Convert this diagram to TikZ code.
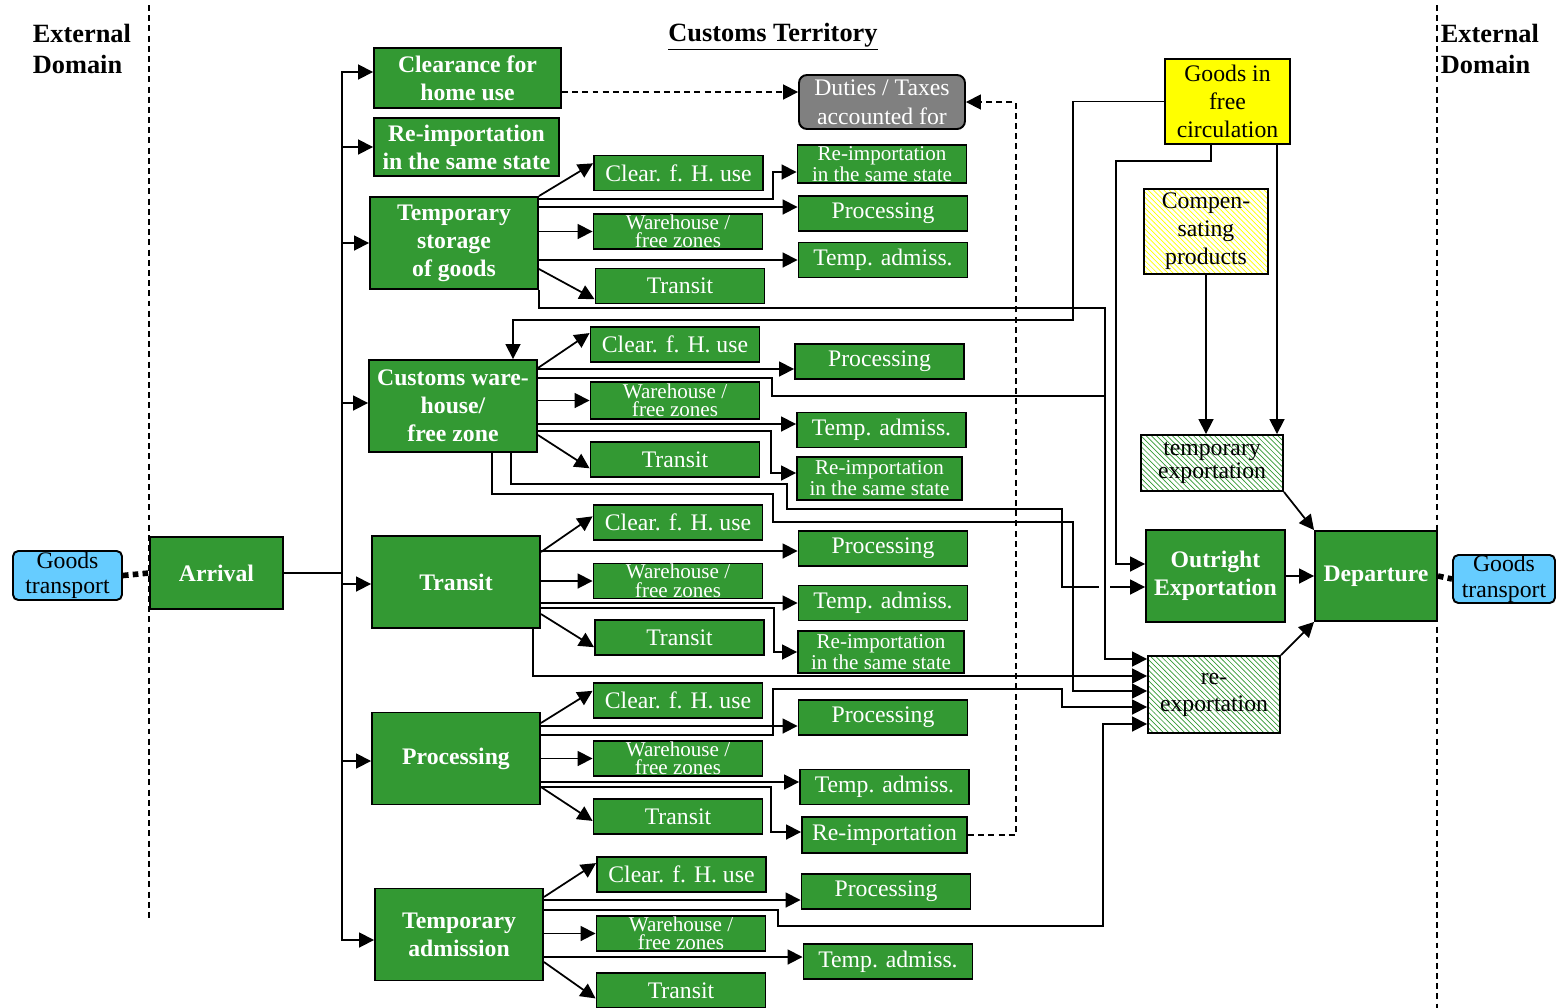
\documentclass[tikz,border=0pt]{standalone}
\usepackage{fontspec}
\setmainfont{Liberation Serif}
\usetikzlibrary{arrows.meta,patterns}
\definecolor{boxgreen}{RGB}{51,153,51}
\definecolor{dutgray}{RGB}{128,128,128}
\definecolor{skyblue}{RGB}{102,204,255}
\definecolor{freeyellow}{RGB}{255,255,0}
\tikzset{
	arw/.style={-{Triangle[length=8.5pt,width=8.5pt]}},
	dsh/.style={dash pattern=on 3.4pt off 2.4pt},
	dotbar/.style={line width=3.2pt,dash pattern=on 3.2pt off 2.4pt},
	gbox/.style={draw,line width=1.1pt,fill=boxgreen,text=white,inner sep=0pt,align=center,font=\fontsize{13.5}{16}\selectfont},
	bigbox/.style={gbox,font=\bfseries\fontsize{13.5}{16}\selectfont,minimum width=3.36cm,minimum height=1.84cm},
	subbox/.style={gbox,minimum width=3.38cm,minimum height=0.7cm},
	twobox/.style={subbox,font=\fontsize{12}{10.5}\selectfont},
	hatchbox/.style={draw,line width=1.1pt,pattern=north west lines,pattern color=boxgreen,inner sep=0pt,align=center,font=\fontsize{13.5}{13}\selectfont},
	tbox/.style={draw,rounded corners=3pt,fill=skyblue,line width=1.1pt,inner sep=0pt,align=center,font=\fontsize{13.5}{14.5}\selectfont},
	head/.style={inner sep=0pt,align=left,font=\bfseries\fontsize{15}{18}\selectfont}
}
\begin{document}
\begin{tikzpicture}[x=0.02cm,y=-0.02cm,line width=1pt]
	\useasboundingbox (0,0) rectangle (1556,1008);
	\draw[dsh,line width=0.9pt] (149,5) -- (149,920);
	\draw[dsh,line width=0.9pt] (1437,5) -- (1437,1008);
	\node[head,anchor=north west] (extl) at (32,23) {External\\Domain};
	\node[head,anchor=north west] (extr) at (1440,23) {External\\Domain};
	\node[head] (terr) at (773,37) {\underline{Customs Territory}};

	\node[tbox,minimum width=2.18cm,minimum height=0.98cm] (gtl) at (67.5,575.5) {Goods\\transport};
	\node[bigbox,minimum width=2.66cm,minimum height=1.44cm] (arr) at (216.5,573) {Arrival};
	\node[bigbox,minimum width=3.74cm,minimum height=1.2cm] (chu) at (467.5,78) {Clearance for\\home use};
	\node[bigbox,minimum width=3.7cm,minimum height=1.16cm] (rss) at (466.5,147) {Re-importation\\in the same state};
	\node[bigbox] (tsg) at (454,243) {Temporary\\storage\\of goods};
	\node[bigbox] (cwh) at (453,406) {Customs ware-\\house/\\free zone};
	\node[bigbox] (trn) at (456,582) {Transit};
	\node[bigbox] (prc) at (456,758.5) {Processing};
	\node[bigbox] (tad) at (459,934.5) {Temporary\\admission};

	\node[subbox] (ts-c) at (678.5,173) {Clear. f. H. use};
	\node[twobox] (ts-w) at (678,231.5) {Warehouse /\\free zones};
	\node[subbox] (ts-t) at (680,286) {Transit};
	\node[twobox,minimum height=0.76cm] (ts-r) at (882,164) {Re-importation\\in the same state};
	\node[subbox] (ts-p) at (883,213.5) {Processing};
	\node[subbox] (ts-a) at (883,260) {Temp. admiss.};

	\node[subbox] (cw-c) at (675,344.5) {Clear. f. H. use};
	\node[twobox,minimum height=0.74cm] (cw-w) at (675,400.5) {Warehouse /\\free zones};
	\node[subbox] (cw-t) at (675,459.5) {Transit};
	\node[subbox] (cw-p) at (879.5,361.5) {Processing};
	\node[subbox] (cw-a) at (881.5,430) {Temp. admiss.};
	\node[twobox,minimum width=3.3cm,minimum height=0.86cm] (cw-r) at (879.5,478.5) {Re-importation\\in the same state};

	\node[subbox] (tr-c) at (678,522.5) {Clear. f. H. use};
	\node[twobox] (tr-w) at (678,581) {Warehouse /\\free zones};
	\node[subbox] (tr-t) at (679.5,637.5) {Transit};
	\node[subbox] (tr-p) at (883,548.5) {Processing};
	\node[subbox] (tr-a) at (883,603) {Temp. admiss.};
	\node[twobox,minimum width=3.32cm,minimum height=0.84cm] (tr-r) at (881,652) {Re-importation\\in the same state};

	\node[subbox] (pr-c) at (678,700.5) {Clear. f. H. use};
	\node[twobox] (pr-w) at (678,758.5) {Warehouse /\\free zones};
	\node[subbox] (pr-t) at (678,816.5) {Transit};
	\node[subbox] (pr-p) at (883,717.5) {Processing};
	\node[subbox] (pr-a) at (884.5,787) {Temp. admiss.};
	\node[subbox,minimum width=3.3cm,minimum height=0.72cm] (pr-r) at (884.5,835) {Re-importation};

	\node[subbox] (ta-c) at (681.5,874.5) {Clear. f. H. use};
	\node[twobox] (ta-w) at (681,933.5) {Warehouse /\\free zones};
	\node[subbox] (ta-t) at (681,990.5) {Transit};
	\node[subbox] (ta-p) at (886,891.5) {Processing};
	\node[subbox] (ta-a) at (888,961.5) {Temp. admiss.};

	\node[draw,line width=1.1pt,rounded corners=4.5pt,fill=dutgray,text=white,inner sep=0pt,align=center,font=\fontsize{13.5}{16.4}\selectfont,minimum width=3.32cm,minimum height=1.08cm] (dut) at (882,102) {Duties / Taxes\\accounted for};
	\node[draw,line width=1.1pt,fill=freeyellow,inner sep=0pt,align=center,font=\fontsize{13.5}{16}\selectfont,minimum width=2.5cm,minimum height=1.7cm] (gfc) at (1227.5,101.5) {Goods in\\free\\circulation};
	\node[hatchbox,pattern color=freeyellow,font=\fontsize{13.5}{16}\selectfont,minimum width=2.48cm,minimum height=1.7cm] (cmp) at (1206,231.5) {Compen-\\sating\\products};
	\node[hatchbox,minimum width=2.84cm,minimum height=1.12cm] (tex) at (1212,463) {temporary\\exportation};
	\node[bigbox,minimum width=2.78cm] (oex) at (1215.5,576) {Outright\\Exportation};
	\node[hatchbox,font=\fontsize{13.5}{15.3}\selectfont,minimum width=2.64cm,minimum height=1.54cm] (rex) at (1214,694.5) {re-\\exportation};
	\node[bigbox,minimum width=2.44cm,minimum height=1.8cm] (dep) at (1376,576) {Departure};
	\node[tbox,minimum width=2.04cm,minimum height=0.96cm] (gtr) at (1504,579) {Goods\\transport};

	\draw[dotbar] (gtl.east) -- (arr.west);
	\draw[dotbar] (dep.east) -- (gtr.west);
	\coordinate (fork) at (342,573);
	\draw (arr.east) -- (fork);
	\draw[arw] (fork) |- (chu.west |- 0,72);
	\draw[arw] (fork) |- (rss.west);
	\draw[arw] (fork) |- (tsg.west);
	\draw[arw] (fork) |- (cwh.west |- 0,403);
	\draw[arw] (fork) |- (trn.west |- 0,584);
	\draw[arw] (fork) |- (prc.west |- 0,761);
	\draw[arw] (fork) |- (tad.west |- 0,940);

	\draw[dsh,arw] (chu.east |- 0,92) -- (dut.west |- 0,92);
	\draw[dsh,arw] (pr-r.east) -| (1016,102) -- (dut.east);

	\draw[arw] (tsg.north east) -- ([yshift=-5pt]ts-c.north west);
	\draw[arw] (tsg.east |- 0,199) -| (773,172) -- (ts-r.west |- 0,172);
	\draw[arw] (tsg.east |- 0,207) -- (ts-p.west |- 0,207);
	\draw[arw] (tsg.east |- ts-w.west) -- (ts-w.west);
	\draw[arw] (tsg.east |- ts-a.west) -- (ts-a.west);
	\draw[arw] (tsg.east |- 0,269) -- ([yshift=3pt]ts-t.south west);

	\draw[arw] (cwh.east |- 0,368) -- ([yshift=-4pt]cw-c.north west);
	\draw[arw] (cwh.east |- 0,369) -- (cw-p.west |- 0,369);
	\draw[arw] (cwh.east |- cw-w.west) -- (cw-w.west);
	\draw[arw] (cwh.east |- 0,424) -- (cw-a.west |- 0,424);
	\draw[arw] (cwh.east |- 0,431) -| (771,473) -- (cw-r.west |- 0,473);
	\draw[arw] (cwh.east |- 0,435) -- ([yshift=5.5pt]cw-t.south west);
	\draw[arw] (cwh.south -| 511,0) |- (787,484) |- (1062,509) |- (oex.west |- 0,587);
	\draw[white,line width=4pt] (1099,587) -- (1110,587);
	\draw[arw] (tsg.south east) |- (1105,308) |- (rex.west |- 0,659);
	\draw (cwh.east |- 0,378) -| (772,396) -- (1105,396);
	\draw[arw] (cwh.south -| 492,0) |- (773,494) |- (1073,522) |- (rex.west |- 0,691);

	\draw[arw] (trn.east |- 0,552) -- ([yshift=-7pt]tr-c.north west);
	\draw[arw] (trn.east |- 0,551) -- (tr-p.west |- 0,551);
	\draw[arw] (trn.east |- tr-w.west) -- (tr-w.west);
	\draw[arw] (trn.east |- tr-a.west) -- (tr-a.west);
	\draw[arw] (trn.east |- 0,608) -| (774,652) -- (tr-r.west);
	\draw[arw] (trn.east |- 0,614) -- ([yshift=5pt]tr-t.south west);
	\draw[arw] (trn.south -| 533,0) |- (rex.west |- 0,676);

	\draw[arw] (prc.east |- 0,723) -- ([yshift=-5pt]pr-c.north west);
	\draw[arw] (prc.east |- 0,726) -- (pr-p.west |- 0,726);
	\draw[arw] (prc.east |- 0,735) -| (773,689) -| (1062,707) -- (rex.west |- 0,707);
	\draw[arw] (prc.east |- pr-w.west) -- (pr-w.west);
	\draw[arw] (prc.east |- 0,782) -- (pr-a.west |- 0,782);
	\draw[arw] (prc.east |- 0,787) -| (771,832) -- (pr-r.west |- 0,832);
	\draw[arw] (prc.east |- 0,787) -- ([yshift=8pt]pr-t.south west);

	\draw[arw] (tad.east |- 0,897) -- ([yshift=-4pt]ta-c.north west);
	\draw[arw] (tad.east |- 0,900) -- (ta-p.west |- 0,900);
	\draw[arw] (tad.east |- 0,910) -| (778,926) -| (1103,724) -- (rex.west |- 0,724);
	\draw[arw] (tad.east |- ta-w.west) -- (ta-w.west);
	\draw[arw] (tad.east |- 0,957) -- (ta-a.west |- 0,957);
	\draw[arw] (tad.east |- 0,962) -- ([yshift=6pt]ta-t.south west);

	\draw[arw] (gfc.west) -| (1073,320) -| (cwh.north -| 513,0);
	\draw[arw] (gfc.south -| 1211,0) -- (1211,161) -| (1116,564) -- (oex.west |- 0,564);
	\draw[arw] (gfc.south -| 1277,0) -- (tex.north -| 1277,0);
	\draw[arw] (cmp.south) -- (tex.north -| cmp.south);
	\draw[arw] (tex.south east) -- (dep.north west);
	\draw[arw] (oex.east) -- (dep.west);
	\draw[arw] (rex.north east) -- (dep.south west);
\end{tikzpicture}
\end{document}
